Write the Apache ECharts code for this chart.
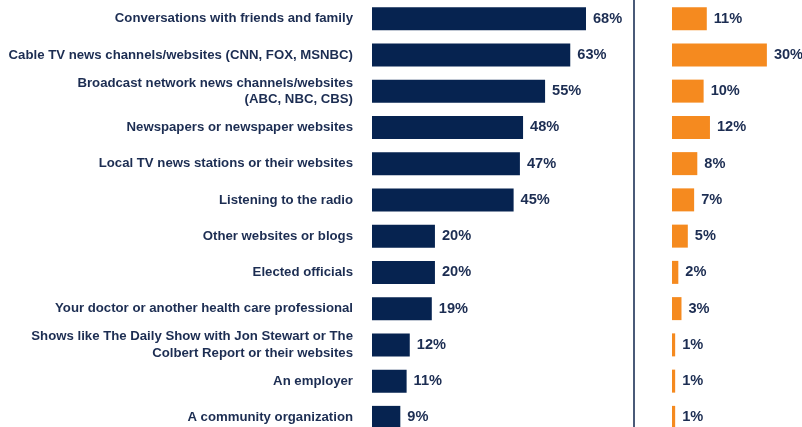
<!DOCTYPE html>
<html><head><meta charset="utf-8">
<script src="https://cdn.jsdelivr.net/npm/echarts@6/dist/echarts.min.js"></script>
<style>html,body{margin:0;padding:0;background:#fff;overflow:hidden}#c{width:802px;height:436px}</style>
</head><body><div id="c"></div>
<script>
const categories = [
  "Conversations with friends and family",
  "Cable TV news channels/websites (CNN, FOX, MSNBC)",
  "Broadcast network news channels/websites\n(ABC, NBC, CBS)",
  "Newspapers or newspaper websites",
  "Local TV news stations or their websites",
  "Listening to the radio",
  "Other websites or blogs",
  "Elected officials",
  "Your doctor or another health care professional",
  "Shows like The Daily Show with Jon Stewart or The\nColbert Report or their websites",
  "An employer",
  "A community organization"
];
const leftValues = [68, 63, 55, 48, 47, 45, 20, 20, 19, 12, 11, 9];
const rightValues = [11, 30, 10, 12, 8, 7, 5, 2, 3, 1, 1, 1];

const navy = '#062350', orange = '#f58a1f', txt = '#1c2d52';
const font = 'Liberation Sans, Arial, sans-serif';
const chart = echarts.init(document.getElementById('c'));
chart.setOption({
  animation: false,
  grid: [
    {left: 372, top: 0.5, width: 314.7, height: 435},
    {left: 672, top: 0.5, width: 126.5, height: 435}
  ],
  xAxis: [
    {gridIndex: 0, type: 'value', min: 0, max: 100, show: false},
    {gridIndex: 1, type: 'value', min: 0, max: 40, show: false}
  ],
  yAxis: [
    {gridIndex: 0, type: 'category', data: categories, inverse: true,
     axisLine: {show: false}, axisTick: {show: false},
     axisLabel: {margin: 19, color: txt, fontFamily: font, fontWeight: 'bold', fontSize: 13.2, lineHeight: 16.5, align: 'right'}},
    {gridIndex: 1, type: 'category', data: categories, inverse: true, offset: 38,
     axisLine: {show: true, onZero: false, lineStyle: {color: '#4a5a78', width: 2}},
     axisTick: {show: false}, axisLabel: {show: false}}
  ],
  series: [
    {type: 'bar', xAxisIndex: 0, yAxisIndex: 0, data: leftValues, barWidth: 23,
     itemStyle: {color: navy},
     label: {show: true, position: 'right', distance: 7, formatter: '{c}%', color: txt, fontFamily: font, fontWeight: 'bold', fontSize: 14.6}},
    {type: 'bar', xAxisIndex: 1, yAxisIndex: 1, data: rightValues, barWidth: 23,
     itemStyle: {color: orange},
     label: {show: true, position: 'right', distance: 7, formatter: '{c}%', color: txt, fontFamily: font, fontWeight: 'bold', fontSize: 14.6}}
  ]
});
</script></body></html>
